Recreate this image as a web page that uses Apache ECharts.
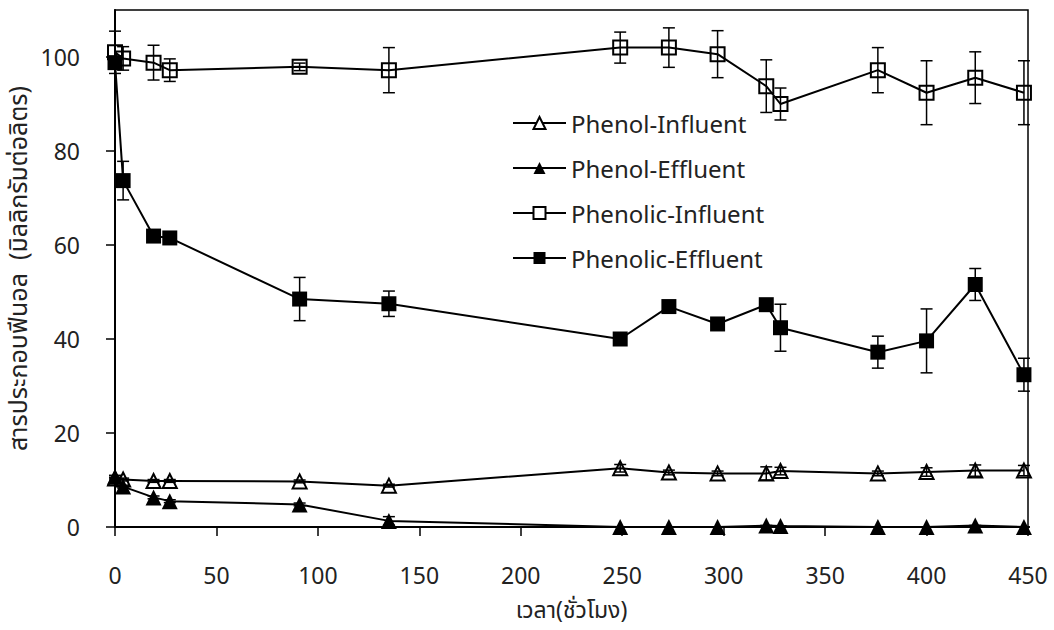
<!DOCTYPE html>
<html>
<head>
<meta charset="utf-8">
<script src="https://cdn.jsdelivr.net/npm/echarts@6/dist/echarts.min.js"></script>
<style>html,body{margin:0;padding:0;background:#fff}#c{width:1054px;height:630px}</style>
</head>
<body>
<div id="c"></div>
<script>
const hours = [0, 4, 19, 27, 91, 135, 249, 273, 297, 321, 328, 376, 400, 424, 448];
const phenolInf = [10.3, 10.1, 9.8, 9.8, 9.7, 8.8, 12.5, 11.6, 11.4, 11.4, 11.9, 11.4, 11.7, 12.0, 12.0];
const phenolInfErr = [0.3, 0.3, 0.3, 0.3, 0.3, 0.3, 0.8, 0.5, 0.5, 1.4, 0.8, 0.5, 0.9, 1.2, 1.1];
const phenolEff = [10.7, 8.6, 6.3, 5.5, 4.8, 1.3, 0, 0, 0, 0.3, 0.2, 0, 0, 0.3, 0];
const phenolEffErr = [0.3, 0.3, 0.3, 0.3, 0.3, 0.9, 0, 0, 0, 0, 0, 0, 0, 0, 0];
const phenolicInf = [101.0, 99.7, 98.8, 97.2, 97.9, 97.2, 102.0, 102.0, 100.6, 93.8, 90.0, 97.2, 92.4, 95.6, 92.4];
const phenolicInfErr = [4.5, 2.5, 3.7, 2.4, 0.8, 4.8, 3.3, 4.2, 5.0, 5.6, 3.4, 4.8, 6.8, 5.5, 6.8];
const phenolicEff = [98.8, 73.7, 61.9, 61.5, 48.5, 47.5, 40.0, 46.9, 43.2, 47.3, 42.4, 37.2, 39.6, 51.6, 32.4];
const phenolicEffErr = [1.0, 4.1, 1.3, 0.8, 4.6, 2.7, 0.5, 0.8, 0.5, 0.5, 5.0, 3.4, 6.8, 3.4, 3.5];
const names = ['Phenol-Influent', 'Phenol-Effluent', 'Phenolic-Influent', 'Phenolic-Effluent'];
const yTicks = [0, 20, 40, 60, 80, 100];
const xTitle = 'เวลา(ชั่วโมง)';
const yTitle = 'สารประกอบฟีนอล  (มิลลิกรัมต่อลิตร)';

const FONT = '"Noto Sans", "Noto Sans Thai", sans-serif';
const chart = echarts.init(document.getElementById('c'), null, {renderer: 'svg'});

function pairs(v) { return hours.map((h, i) => [h, v[i]]); }
function errData(v, e) { return hours.map((h, i) => [h, v[i] - e[i], v[i] + e[i]]); }

function errSeries(v, e) {
  return {
    type: 'custom',
    data: errData(v, e),
    z: 3,
    silent: true,
    renderItem: function (params, api) {
      const x = api.value(0);
      const lo = api.coord([x, api.value(1)]);
      const hi = api.coord([x, api.value(2)]);
      const w = 6;
      const st = {stroke: '#000', lineWidth: 1.5};
      return {
        type: 'group',
        children: [
          {type: 'line', shape: {x1: lo[0], y1: lo[1], x2: hi[0], y2: hi[1]}, style: st},
          {type: 'line', shape: {x1: lo[0] - w, y1: lo[1], x2: lo[0] + w, y2: lo[1]}, style: st},
          {type: 'line', shape: {x1: hi[0] - w, y1: hi[1], x2: hi[0] + w, y2: hi[1]}, style: st}
        ]
      };
    }
  };
}

function lineSeries(name, v, symbol, filled, size) {
  return {
    type: 'line',
    name: name,
    data: pairs(v),
    symbol: symbol,
    symbolSize: size,
    z: 4,
    lineStyle: {color: '#000', width: 2},
    itemStyle: {
      color: filled ? '#000' : 'rgba(255,255,255,0)',
      borderColor: '#000',
      borderWidth: filled ? 0 : 2
    }
  };
}

const option = {
  animation: false,
  backgroundColor: '#fff',
  grid: {left: 115, right: 26, top: 10, bottom: 103, show: true, borderColor: '#000', borderWidth: 1.5, backgroundColor: 'transparent', outerBoundsMode: 'none', containLabel: false},
  legend: {
    data: [
      {name: names[0], itemStyle: {color: '#fff'}},
      {name: names[1]},
      {name: names[2], itemStyle: {color: '#fff'}},
      {name: names[3]}
    ],
    orient: 'vertical',
    left: 512,
    top: 111,
    padding: 0,
    itemWidth: 53,
    itemHeight: 15,
    itemGap: 21,
    textStyle: {fontFamily: FONT, fontSize: 24, color: '#222'}
  },
  xAxis: {
    type: 'value',
    min: 0, max: 450, interval: 50,
    name: xTitle,
    nameLocation: 'middle',
    nameGap: 70,
    nameTextStyle: {fontFamily: FONT, fontSize: 23, color: '#222'},
    axisLine: {lineStyle: {color: '#000', width: 2}},
    axisTick: {show: true, length: 9, lineStyle: {color: '#000', width: 1.5}},
    axisLabel: {fontFamily: FONT, fontSize: 23, color: '#222', margin: 36},
    splitLine: {show: false}
  },
  yAxis: {
    type: 'value',
    min: 0, max: 110, interval: 20,
    name: yTitle,
    nameLocation: 'middle',
    nameGap: 76,
    nameTextStyle: {fontFamily: FONT, fontSize: 25, color: '#222'},
    axisLine: {lineStyle: {color: '#000', width: 2}},
    axisTick: {show: true, length: 9, customValues: yTicks, lineStyle: {color: '#000', width: 1.5}},
    axisLabel: {fontFamily: FONT, fontSize: 23, color: '#222', margin: 35, customValues: yTicks},
    splitLine: {show: false}
  },
  series: [
    errSeries(phenolInf, phenolInfErr),
    errSeries(phenolEff, phenolEffErr),
    errSeries(phenolicInf, phenolicInfErr),
    errSeries(phenolicEff, phenolicEffErr),
    lineSeries(names[0], phenolInf, 'triangle', false, 14),
    lineSeries(names[1], phenolEff, 'triangle', true, 16),
    lineSeries(names[2], phenolicInf, 'rect', false, 14),
    lineSeries(names[3], phenolicEff, 'rect', true, 15)
  ]
};
chart.setOption(option);
</script>
</body>
</html>
